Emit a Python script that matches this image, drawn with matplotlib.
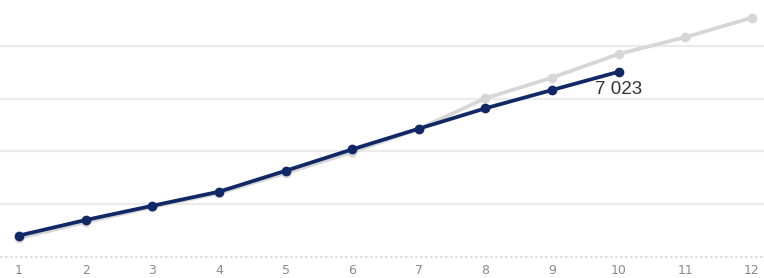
import numpy as np
import matplotlib.pyplot as plt

# Sample data
months = np.arange(1, 13)
current = [800, 1390, 1930, 2465, 3260, 4075, 4860, 5635, 6330, 7023]
previous = [700, 1310, 1880, 2410, 3170, 3970, 4850, 6015, 6800, 7700, 8335, 9080]
label_text = "7 023"

navy = '#112866'
grey = '#d6d6d6'

fig = plt.figure(figsize=(7.64, 2.78), dpi=100)
ax = fig.add_axes([0, 0.077, 1, 0.923])

ax.plot(months[:len(previous)], previous, color=grey, lw=2.7, marker='o', ms=6, zorder=2)
ax.plot(months[:len(current)], current, color=navy, lw=2.7, marker='o', ms=6, zorder=3)

# last value label
ax.annotate(label_text, (months[len(current) - 1], current[-1]), xytext=(0, -13),
            textcoords='offset points', ha='center', va='center',
            fontsize=13.5, family='Liberation Sans', color='#333333', zorder=4)

ax.set_xlim(0.715, 12.18)
ax.set_ylim(0, 9750)
ax.set_yticks([2000, 4000, 6000, 8000])
ax.yaxis.grid(True, color='#ebebeb', lw=1.6)
ax.set_axisbelow(True)
ax.axhline(0, color='#d8d8d8', lw=1.2, ls=(0, (1.5, 1.5)), clip_on=False)

ax.set_xticks(months)
ax.tick_params(axis='x', length=0, pad=5, labelsize=9, labelcolor='#8a8a8a')
ax.tick_params(axis='y', length=0, labelleft=False)
for s in ax.spines.values():
    s.set_visible(False)

fig.savefig('out.png', dpi=100)
